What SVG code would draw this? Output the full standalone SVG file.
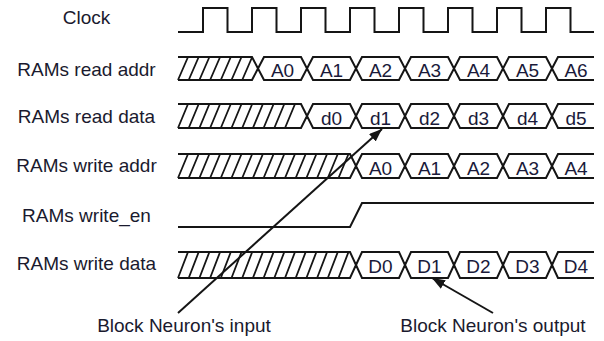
<svg xmlns="http://www.w3.org/2000/svg" width="604" height="341" viewBox="0 0 604 341">
<style>
.bg{fill:#ffffff}
.w{fill:none;stroke:#151515;stroke-width:2;stroke-linejoin:miter}
.h{fill:none;stroke:#151515;stroke-width:1.8}
.lbl{font-family:"Liberation Sans",Arial,sans-serif;font-size:19px;fill:#1a1a2e;text-anchor:middle}
.val{font-family:"Liberation Sans",Arial,sans-serif;font-size:19px;fill:#1a1a3a;text-anchor:middle}
.arr{fill:none;stroke:#151515;stroke-width:2}
</style>
<defs>
<marker id="ah" markerUnits="userSpaceOnUse" markerWidth="14" markerHeight="10" refX="13" refY="5" orient="auto">
<path d="M0,0 L13,5 L0,10 Z" fill="#151515"/>
</marker>
</defs>
<rect class="bg" x="0" y="0" width="604" height="341"/>

<g id="clock">
<text class="lbl" x="86.5" y="24">Clock</text>
<path class="w" d="M178,32 H203 V8 H227.5 V32 H252 V8 H276.5 V32 H301 V8 H325.5 V32 H350 V8 H374.5 V32 H399 V8 H423.5 V32 H448 V8 H472.5 V32 H497 V8 H521.5 V32 H546 V8 H570.5 V32 H594"/>
</g>

<g id="read-addr">
<text class="lbl" x="86.5" y="75.5">RAMs read addr</text>
<path class="h" d="M178,80 L188,57 M188.7,80 L198.7,57 M199.4,80 L209.4,57 M210.1,80 L220.1,57 M220.8,80 L230.8,57 M231.5,80 L241.5,57 M242.2,80 L252.2,57"/>
<path class="w" d="M178,57 H252 L258,68.5 L252,80 H178
M258,68.5 L264,57 H301 L307,68.5 L301,80 H264 Z
M307,68.5 L313,57 H350 L356,68.5 L350,80 H313 Z
M356,68.5 L362,57 H399 L405,68.5 L399,80 H362 Z
M405,68.5 L411,57 H448 L454,68.5 L448,80 H411 Z
M454,68.5 L460,57 H497 L503,68.5 L497,80 H460 Z
M503,68.5 L509,57 H546 L552,68.5 L546,80 H509 Z
M552,68.5 L558,57 H594 M552,68.5 L558,80 H594"/>
<text class="val" x="282.5" y="77">A0</text>
<text class="val" x="331.5" y="77">A1</text>
<text class="val" x="380.5" y="77">A2</text>
<text class="val" x="429.5" y="77">A3</text>
<text class="val" x="478.5" y="77">A4</text>
<text class="val" x="527.5" y="77">A5</text>
<text class="val" x="576" y="77">A6</text>
</g>

<g id="read-data">
<text class="lbl" x="86.5" y="123">RAMs read data</text>
<path class="h" d="M178,128 L188,104 M188.7,128 L198.7,104 M199.4,128 L209.4,104 M210.1,128 L220.1,104 M220.8,128 L230.8,104 M231.5,128 L241.5,104 M242.2,128 L252.2,104 M252.9,128 L262.9,104 M263.6,128 L273.6,104 M274.3,128 L284.3,104 M285,128 L295,104"/>
<path class="w" d="M178,104 H301 L307,116 L301,128 H178
M307,116 L313,104 H350 L356,116 L350,128 H313 Z
M356,116 L362,104 H399 L405,116 L399,128 H362 Z
M405,116 L411,104 H448 L454,116 L448,128 H411 Z
M454,116 L460,104 H497 L503,116 L497,128 H460 Z
M503,116 L509,104 H546 L552,116 L546,128 H509 Z
M552,116 L558,104 H594 M552,116 L558,128 H594"/>
<text class="val" x="331.5" y="125">d0</text>
<text class="val" x="380.5" y="125">d1</text>
<text class="val" x="429.5" y="125">d2</text>
<text class="val" x="478.5" y="125">d3</text>
<text class="val" x="527.5" y="125">d4</text>
<text class="val" x="576" y="125">d5</text>
</g>

<g id="write-addr">
<text class="lbl" x="86.5" y="172">RAMs write addr</text>
<path class="h" d="M178,178 L188,154 M188.7,178 L198.7,154 M199.4,178 L209.4,154 M210.1,178 L220.1,154 M220.8,178 L230.8,154 M231.5,178 L241.5,154 M242.2,178 L252.2,154 M252.9,178 L262.9,154 M263.6,178 L273.6,154 M274.3,178 L284.3,154 M285,178 L295,154 M295.7,178 L305.7,154 M306.4,178 L316.4,154 M317.1,178 L327.1,154 M327.8,178 L337.8,154 M338.5,178 L348.5,154"/>
<path class="w" d="M178,154 H350 L356,166 L350,178 H178
M356,166 L362,154 H399 L405,166 L399,178 H362 Z
M405,166 L411,154 H448 L454,166 L448,178 H411 Z
M454,166 L460,154 H497 L503,166 L497,178 H460 Z
M503,166 L509,154 H546 L552,166 L546,178 H509 Z
M552,166 L558,154 H594 M552,166 L558,178 H594"/>
<text class="val" x="380.5" y="175">A0</text>
<text class="val" x="429.5" y="175">A1</text>
<text class="val" x="478.5" y="175">A2</text>
<text class="val" x="527.5" y="175">A3</text>
<text class="val" x="576" y="175">A4</text>
</g>

<g id="write-en">
<text class="lbl" x="86.5" y="222">RAMs write_en</text>
<path class="w" d="M178,227 H350 L362,203 H594"/>
</g>

<g id="write-data">
<text class="lbl" x="86.5" y="270">RAMs write data</text>
<path class="h" d="M178,278 L188,252 M188.7,278 L198.7,252 M199.4,278 L209.4,252 M210.1,278 L220.1,252 M220.8,278 L230.8,252 M231.5,278 L241.5,252 M242.2,278 L252.2,252 M252.9,278 L262.9,252 M263.6,278 L273.6,252 M274.3,278 L284.3,252 M285,278 L295,252 M295.7,278 L305.7,252 M306.4,278 L316.4,252 M317.1,278 L327.1,252 M327.8,278 L337.8,252 M338.5,278 L348.5,252"/>
<path class="w" d="M178,252 H350 L356,265 L350,278 H178
M356,265 L362,252 H399 L405,265 L399,278 H362 Z
M405,265 L411,252 H448 L454,265 L448,278 H411 Z
M454,265 L460,252 H497 L503,265 L497,278 H460 Z
M503,265 L509,252 H546 L552,265 L546,278 H509 Z
M552,265 L558,252 H594 M552,265 L558,278 H594"/>
<text class="val" x="380.5" y="272.5">D0</text>
<text class="val" x="429.5" y="272.5">D1</text>
<text class="val" x="478.5" y="272.5">D2</text>
<text class="val" x="527.5" y="272.5">D3</text>
<text class="val" x="576" y="272.5">D4</text>
</g>

<g id="input-label">
<text class="lbl" x="184" y="332">Block Neuron's input</text>
</g>
<g id="output-label">
<text class="lbl" x="493" y="332">Block Neuron's output</text>
</g>

<g id="connectors">
<line class="arr" x1="178" y1="313" x2="382" y2="129" marker-end="url(#ah)"/>
<line class="arr" x1="493" y1="313" x2="432" y2="278" marker-end="url(#ah)"/>
</g>
</svg>
